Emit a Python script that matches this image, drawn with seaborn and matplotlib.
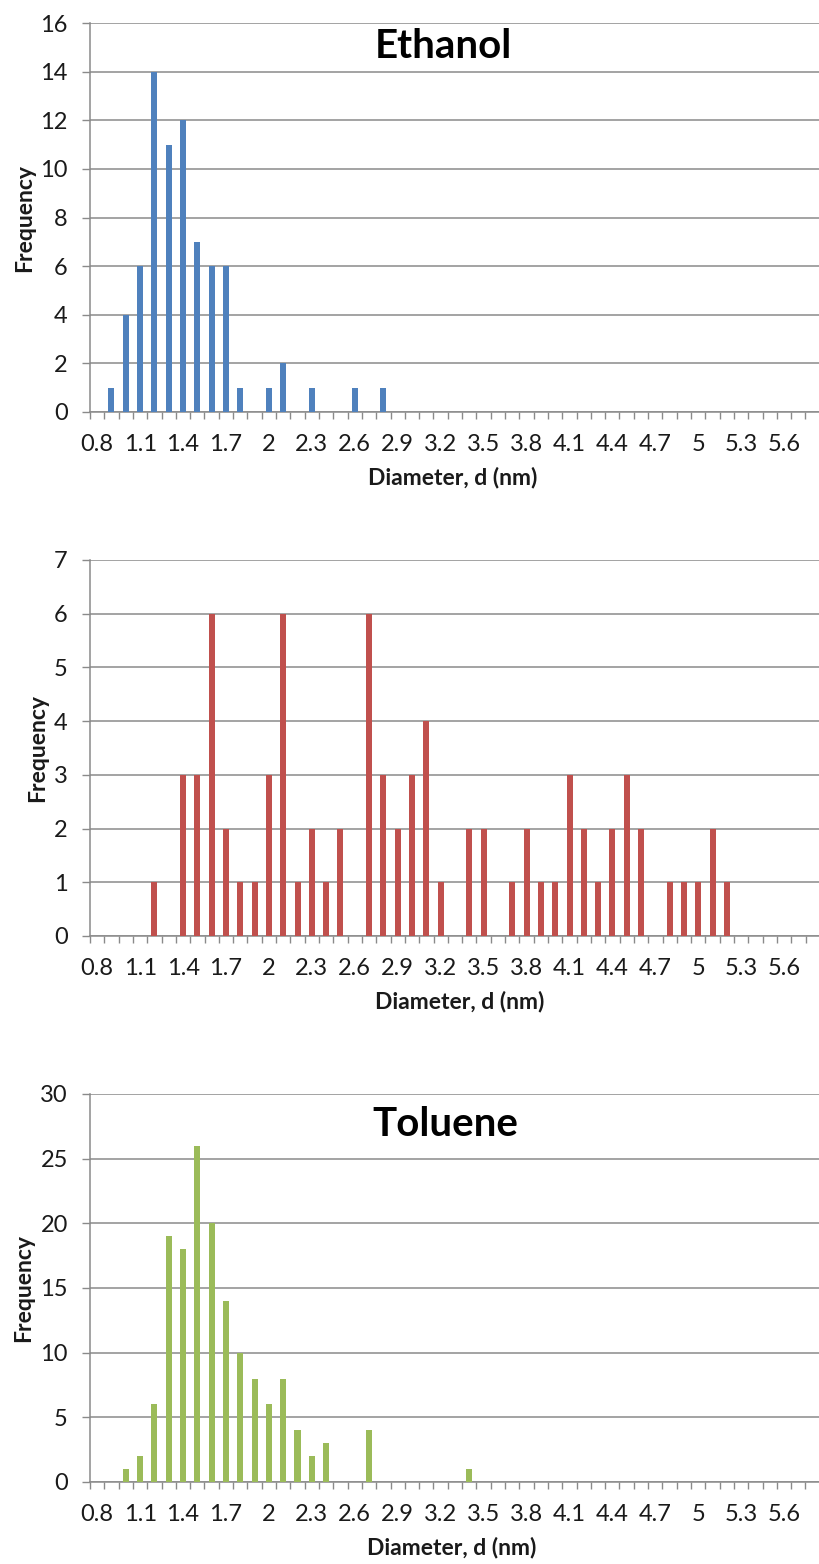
import numpy as np
import pandas as pd
import matplotlib
matplotlib.use("Agg")
import matplotlib.pyplot as plt
import seaborn as sns

# ---------------- data ----------------
diameters = [0.8, 0.9, 1.0, 1.1, 1.2, 1.3, 1.4, 1.5, 1.6, 1.7,
             1.8, 1.9, 2.0, 2.1, 2.2, 2.3, 2.4, 2.5, 2.6, 2.7,
             2.8, 2.9, 3.0, 3.1, 3.2, 3.3, 3.4, 3.5, 3.6, 3.7,
             3.8, 3.9, 4.0, 4.1, 4.2, 4.3, 4.4, 4.5, 4.6, 4.7,
             4.8, 4.9, 5.0, 5.1, 5.2, 5.3, 5.4, 5.5, 5.6, 5.7, 5.8]

ethanol = [0, 1, 4, 6, 14, 11, 12, 7, 6, 6,
           1, 0, 1, 2, 0, 1, 0, 0, 1, 0,
           1, 0, 0, 0, 0, 0, 0, 0, 0, 0,
           0, 0, 0, 0, 0, 0, 0, 0, 0, 0,
           0, 0, 0, 0, 0, 0, 0, 0, 0, 0, 0]

middle = [0, 0, 0, 0, 1, 0, 3, 3, 6, 2,
          1, 1, 3, 6, 1, 2, 1, 2, 0, 6,
          3, 2, 3, 4, 1, 0, 2, 2, 0, 1,
          2, 1, 1, 3, 2, 1, 2, 3, 2, 0,
          1, 1, 1, 2, 1, 0, 0, 0, 0, 0, 0]

toluene = [0, 0, 1, 2, 6, 19, 18, 26, 20, 14,
           10, 8, 6, 8, 4, 2, 3, 0, 0, 4,
           0, 0, 0, 0, 0, 0, 1, 0, 0, 0,
           0, 0, 0, 0, 0, 0, 0, 0, 0, 0,
           0, 0, 0, 0, 0, 0, 0, 0, 0, 0, 0]

tick_labels = ["0.8", "1.1", "1.4", "1.7", "2", "2.3", "2.6", "2.9", "3.2",
               "3.5", "3.8", "4.1", "4.4", "4.7", "5", "5.3", "5.6"]

titles = ["Ethanol", "", "Toluene"]
y_max = [16, 7, 30]
y_step = [2, 1, 5]
colors = ["#4F81BD", "#C0504D", "#9BBB59"]
series = [ethanol, middle, toluene]

# ---------------- style ----------------
sns.set_theme(style="white")
plt.rcParams['font.family'] = ['Lato', 'DejaVu Sans']
GRID = "#8a8a8a"
TXT = "#1a1a1a"

W, H = 820, 1564
fig = plt.figure(figsize=(W / 100, H / 100), dpi=100)

# pixel boxes: left, top, right, bottom, category width(px)
boxes = [(90, 23, 820, 412, 14.31),
         (90, 560, 820, 936, 14.55),
         (90, 1094, 820, 1482, 14.31)]
title_pos = [(443, 47), None, (445, 1124)]
xlabel_cx = [453, 460, 452]
XLABEL_GAP = 55  # px from axis line to top of x label

cat_labels = [f"{d:g}" for d in diameters]

for k in range(3):
    l, t, r, b, cw = boxes[k]
    ax = fig.add_axes([l / W, 1 - b / H, (r - l) / W, (b - t) / H])
    df = pd.DataFrame({"d": cat_labels, "f": series[k]})
    sns.barplot(data=df, x="d", y="f", order=cat_labels, color=colors[k],
                saturation=1, width=0.42, linewidth=0, edgecolor="none",
                ax=ax, zorder=3)
    ax.set_xlim(-0.5, -0.5 + (r - l) / cw)
    ax.set_ylim(0, y_max[k])
    ax.set_yticks(list(range(0, y_max[k] + 1, y_step[k])))
    ax.yaxis.grid(True, color=GRID, lw=1.1, zorder=0)
    ax.xaxis.grid(False)
    ax.set_axisbelow(True)

    pos = [cat_labels.index(s) for s in tick_labels]
    ax.set_xticks(pos)
    ax.set_xticklabels(tick_labels)
    ax.set_xticks(np.arange(-0.5, len(cat_labels), 1.0), minor=True)
    ax.tick_params(axis="x", which="major", length=0, pad=15.5,
                   labelsize=17, labelcolor=TXT)
    ax.tick_params(axis="x", which="minor", length=5, width=1.0,
                   color=GRID, direction="out", bottom=True)
    ax.tick_params(axis="y", which="major", length=6, width=1.0,
                   color=GRID, direction="out", left=True, pad=10,
                   labelsize=17, labelcolor=TXT)

    for s in ["top", "right"]:
        ax.spines[s].set_visible(False)
    for s in ["left", "bottom"]:
        ax.spines[s].set_color(GRID)
        ax.spines[s].set_linewidth(1.1)

    ax.set_ylabel("Frequency", fontsize=16.5, fontweight="bold",
                  color=TXT, labelpad=4)
    ax.set_xlabel("Diameter, d (nm)", fontsize=16.5, fontweight="bold",
                  color=TXT)
    ax.xaxis.set_label_coords((xlabel_cx[k] - l) / (r - l),
                              -XLABEL_GAP / (b - t))
    ax.xaxis.label.set_va("top")

    if title_pos[k] is not None:
        tx, ty = title_pos[k]
        fig.text(tx / W, 1 - ty / H, titles[k], ha="center", va="center",
                 fontsize=29, fontweight="bold", color="black")

fig.savefig("out.png", dpi=100)
